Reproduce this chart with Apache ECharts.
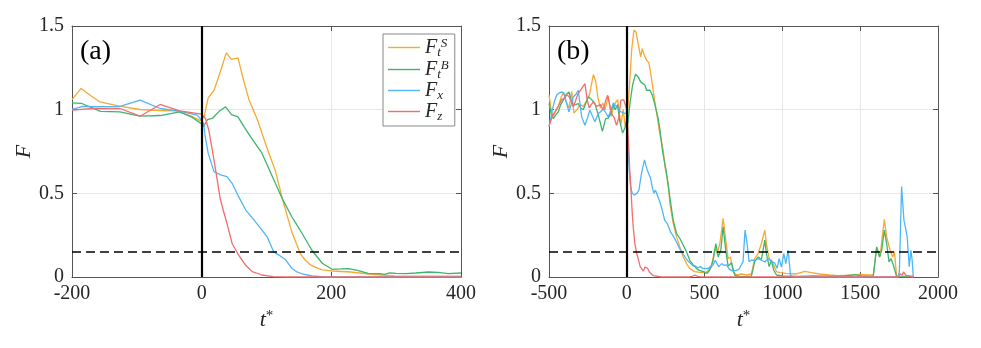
<!DOCTYPE html>
<html>
<head>
<meta charset="utf-8">
<script src="https://cdn.jsdelivr.net/npm/echarts@6/dist/echarts.min.js"></script>
<style>html,body{margin:0;padding:0;background:#fff;}#c{width:981px;height:348px;}</style>
</head>
<body>
<div id="c"></div>
<script>
// ---------- data ----------
const seriesNames = ['FtS', 'FtB', 'Fx', 'Fz'];
const threshold = 0.15;
const eventTime = 0;
const aXRange = [-200, 400, 200];
const bXRange = [-500, 2000, 500];

// panel (a)
const aFtS = [[-200,1.06],[-186,1.127],[-170,1.08],[-157,1.047],[-125,1.02],[-95,1.001],[-64,0.995],[-39,0.993],[-15,0.96],[-2,0.935],[4,0.96],[10,1.07],[19,1.115],[29,1.23],[38,1.34],[46,1.30],[56,1.31],[65,1.17],[73,1.06],[86,0.94],[100,0.78],[114,0.63],[125,0.46],[139,0.27],[152,0.14],[160,0.10],[168,0.072],[176,0.058],[186,0.042],[201,0.036],[230,0.03],[257,0.018],[298,0.006],[350,0.005],[400,0.005]];
const aFtB = [[-200,1.041],[-185,1.037],[-156,0.99],[-126,0.987],[-95,0.962],[-64,0.965],[-34,0.987],[-15,0.955],[0,0.915],[3,0.90],[9,0.94],[17,0.95],[27,0.99],[37,1.017],[46,0.97],[56,0.957],[65,0.90],[75,0.84],[93,0.74],[109,0.60],[124,0.47],[139,0.36],[147,0.31],[155,0.26],[170,0.16],[186,0.082],[201,0.046],[215,0.048],[227,0.05],[240,0.04],[257,0.022],[275,0.02],[282,0.016],[290,0.024],[300,0.022],[315,0.02],[330,0.024],[350,0.03],[365,0.028],[380,0.02],[400,0.024]];
const aFx = [[-200,1.001],[-183,1.02],[-156,1.018],[-126,1.02],[-95,1.057],[-64,1.007],[-32,0.99],[-7,0.967],[0,0.937],[3,0.917],[5,0.85],[10,0.74],[19,0.63],[29,0.61],[39,0.60],[47,0.56],[57,0.48],[68,0.40],[80,0.344],[93,0.28],[101,0.24],[111,0.151],[119,0.131],[129,0.105],[139,0.052],[147,0.03],[155,0.018],[170,0.006],[190,0.0],[400,0.0]];
const aFz = [[-200,0.997],[-167,1.007],[-126,1.007],[-95,0.961],[-64,1.031],[-34,0.993],[0,0.973],[6,0.947],[11,0.878],[19,0.70],[29,0.46],[39,0.32],[47,0.20],[57,0.13],[68,0.07],[78,0.032],[93,0.012],[110,0.002],[130,0],[400,0]];

// panel (b)
const bFtS = [[-500,1.09],[-485,0.99],[-472,0.96],[-455,1.00],[-440,1.02],[-420,1.08],[-405,1.10],[-390,1.05],[-372,1.01],[-354,1.11],[-340,0.98],[-320,1.00],[-300,1.03],[-280,1.02],[-260,1.05],[-240,1.09],[-215,1.21],[-200,1.17],[-185,1.07],[-170,1.01],[-155,1.04],[-140,1.00],[-119,1.08],[-100,0.96],[-80,1.03],[-59,1.06],[-38,0.91],[-23,1.00],[-10,0.90],[0,0.94],
  [10,1.05],[20,1.18],[31,1.355],[46,1.475],[59,1.465],[73,1.395],[89,1.315],[99,1.365],[112,1.325],[127,1.296],[142,1.28],[159,1.186],[174,1.087],[191,0.987],[208,0.878],[220,0.82],[234,0.758],[245,0.66],[266,0.56],[277,0.44],[298,0.32],[320,0.24],[341,0.18],[363,0.12],[384,0.08],[405,0.05],[437,0.032],[480,0.026],[512,0.03],[544,0.06],[566,0.17],[581,0.14],[598,0.2],[619,0.35],[636,0.22],[651,0.11],[666,0.12],[683,0.032],[705,0.012],[737,0.018],[769,0.012],[801,0.018],[822,0.11],[844,0.14],[865,0.2],[887,0.28],[897,0.2],[915,0.11],[929,0.1],[944,0.072],[962,0.032],[983,0.026],[1026,0.022],[1090,0.018],[1144,0.034],[1187,0.026],[1240,0.018],[1304,0.012],[1350,0.008],[1400,0.01],[1450,0.012],[1488,0.016],[1540,0.012],[1584,0.012],[1606,0.177],[1627,0.12],[1655,0.344],[1670,0.24],[1692,0.16],[1709,0.12],[1720,0.15],[1734,0.006],[1790,0.005],[1845,0.005]];
const bFtB = [[-500,1.037],[-485,0.97],[-472,0.947],[-455,0.97],[-440,0.987],[-425,1.03],[-408,1.057],[-390,1.09],[-372,1.106],[-358,1.06],[-344,1.027],[-328,1.03],[-312,1.037],[-296,1.01],[-280,1.0],[-263,1.04],[-247,1.077],[-226,1.06],[-205,1.037],[-183,0.967],[-157,0.87],[-136,0.947],[-120,0.95],[-108,0.967],[-87,1.03],[-75,1.0],[-59,1.03],[-45,0.93],[-27,0.86],[-12,0.89],[0,0.94],
  [7,0.918],[20,1.036],[37,1.146],[56,1.212],[73,1.196],[89,1.166],[99,1.176],[117,1.146],[127,1.116],[149,1.116],[164,1.087],[181,1.027],[202,0.947],[213,0.88],[230,0.75],[252,0.64],[273,0.5],[298,0.34],[320,0.26],[341,0.23],[363,0.19],[384,0.15],[405,0.10],[427,0.072],[459,0.042],[491,0.032],[516,0.022],[533,0.042],[555,0.10],[572,0.2],[587,0.12],[604,0.16],[619,0.30],[636,0.16],[651,0.065],[673,0.085],[694,0.01],[726,0.003],[770,0.002],[801,0.005],[822,0.092],[844,0.12],[865,0.105],[887,0.22],[897,0.14],[915,0.062],[929,0.10],[944,0.042],[962,0.012],[1000,0.006],[1100,0.004],[1200,0.006],[1300,0.005],[1400,0.006],[1470,0.014],[1500,0.006],[1584,0.004],[1606,0.18],[1623,0.12],[1638,0.16],[1655,0.28],[1670,0.2],[1685,0.09],[1698,0.11],[1713,0.072],[1734,0.002],[1845,0.0]];
const bFx = [[-500,0.898],[-479,0.997],[-465,1.05],[-451,1.087],[-435,1.10],[-419,1.106],[-405,1.10],[-393,1.097],[-372,0.987],[-358,1.03],[-344,1.077],[-328,1.09],[-312,1.116],[-290,0.957],[-269,0.907],[-253,0.95],[-237,0.997],[-220,0.96],[-205,0.928],[-183,0.977],[-165,0.99],[-151,1.007],[-135,0.98],[-119,0.957],[-100,1.0],[-87,1.04],[-65,1.017],[-45,0.99],[-33,0.987],[-15,0.98],[0,0.977],
  [8,0.80],[16,0.64],[24,0.54],[35,0.50],[50,0.49],[65,0.50],[78,0.52],[93,0.61],[104,0.66],[114,0.70],[122,0.67],[131,0.64],[140,0.62],[153,0.59],[165,0.53],[174,0.50],[184,0.52],[195,0.51],[212,0.45],[228,0.40],[243,0.34],[260,0.32],[281,0.27],[302,0.24],[324,0.20],[345,0.16],[367,0.13],[388,0.10],[409,0.082],[427,0.065],[441,0.066],[456,0.055],[473,0.062],[490,0.05],[505,0.052],[520,0.05],[537,0.062],[553,0.07],[569,0.10],[580,0.08],[591,0.062],[610,0.08],[623,0.07],[641,0.072],[656,0.05],[673,0.038],[700,0.038],[720,0.045],[747,0.092],[760,0.28],[773,0.2],[786,0.092],[801,0.1],[822,0.1],[844,0.11],[865,0.1],[887,0.09],[908,0.11],[929,0.092],[950,0.085],[966,0.052],[979,0.11],[994,0.06],[1009,0.14],[1022,0.08],[1037,0.16],[1052,0.012],[1069,0],[1745,0],[1752,0.04],[1766,0.54],[1781,0.34],[1794,0.28],[1802,0.24],[1815,0.062],[1826,0.16],[1834,0.10],[1841,0.002]];
const bFz = [[-500,0.9],[-475,0.97],[-451,1.0],[-435,1.03],[-419,1.06],[-400,1.07],[-385,1.09],[-369,1.076],[-344,1.017],[-330,1.05],[-316,1.09],[-295,1.12],[-280,1.14],[-269,1.156],[-255,1.06],[-241,1.01],[-228,1.03],[-215,1.046],[-195,1.02],[-170,1.03],[-151,0.997],[-137,1.05],[-123,1.086],[-110,1.03],[-98,0.977],[-80,0.95],[-66,0.907],[-52,0.95],[-38,1.056],[-20,1.06],[-8,1.06],[0,1.0],
  [5,0.92],[11,0.80],[20,0.62],[26,0.54],[35,0.38],[43,0.28],[52,0.20],[64,0.14],[73,0.11],[86,0.062],[95,0.052],[107,0.035],[116,0.06],[125,0.065],[133,0.052],[145,0.03],[154,0.022],[170,0.008],[181,0.004],[220,0.0],[400,0.0],[420,0.004],[438,0.012],[455,0.004],[480,0],[1000,0],[1500,0],[1745,0],[1755,0.02],[1760,0.026],[1770,0.012],[1778,0.03],[1788,0.032],[1795,0.01],[1800,0],[1845,0]];

// ---------- chart ----------
const colors = ['#F6A935', '#3DB56E', '#4DB6F9', '#F26D6D'];
const serif = "'Liberation Serif', 'DejaVu Serif', serif";
const txt = '#262626';
const frame = '#555555';

function xAxes(gridIndex, r) {
  return [
    { type: 'value', gridIndex, min: r[0], max: r[1], interval: r[2], position: 'bottom',
      name: '{i|t}{s|*}', nameLocation: 'middle', nameGap: 30,
      nameTextStyle: { rich: { i: { fontFamily: serif, fontStyle: 'italic', fontSize: 22, color: txt }, s: { fontFamily: serif, fontSize: 15, color: txt, verticalAlign: 'top', padding: [0,0,8,0] } } },
      axisLine: { show: true, onZero: false, lineStyle: { color: frame, width: 1 } },
      axisTick: { show: true, inside: true, length: 5, lineStyle: { color: frame } },
      axisLabel: { fontFamily: serif, fontSize: 20, color: txt, margin: 7, formatter: v => String(v) },
      splitLine: { show: true, lineStyle: { color: '#e6e6e6', width: 1 } } },
    { type: 'value', gridIndex, min: r[0], max: r[1], interval: r[2], position: 'top',
      axisLine: { show: true, onZero: false, lineStyle: { color: frame, width: 1 } },
      axisTick: { show: true, inside: true, length: 5, lineStyle: { color: frame } },
      axisLabel: { show: false }, splitLine: { show: false } }
  ];
}
function yAxes(gridIndex, gap) {
  return [
    { type: 'value', gridIndex, min: 0, max: 1.5, interval: 0.5, position: 'left',
      name: 'F', nameLocation: 'middle', nameGap: gap, nameRotate: 90,
      nameTextStyle: { fontFamily: serif, fontStyle: 'italic', fontSize: 22, color: txt },
      axisLine: { show: true, onZero: false, lineStyle: { color: frame, width: 1 } },
      axisTick: { show: true, inside: true, length: 5, lineStyle: { color: frame } },
      axisLabel: { fontFamily: serif, fontSize: 20, color: txt, margin: 8, formatter: v => String(v) },
      splitLine: { show: true, lineStyle: { color: '#e6e6e6', width: 1 } } },
    { type: 'value', gridIndex, min: 0, max: 1.5, interval: 0.5, position: 'right',
      axisLine: { show: true, onZero: false, lineStyle: { color: frame, width: 1 } },
      axisTick: { show: true, inside: true, length: 5, lineStyle: { color: frame } },
      axisLabel: { show: false }, splitLine: { show: false } }
  ];
}

function panelSeries(datas, xi, yi) {
  const out = datas.map((d, k) => ({
    name: seriesNames[k], type: 'line', xAxisIndex: xi, yAxisIndex: yi, data: d,
    symbol: 'none', showSymbol: false, color: colors[k],
    lineStyle: { width: 1.3, color: colors[k] }, animation: false, z: 2 + k * 0.01
  }));
  out.push({
    name: 'ref', type: 'line', xAxisIndex: xi, yAxisIndex: yi, data: [], symbol: 'none', z: 5, animation: false,
    markLine: { silent: true, symbol: 'none', label: { show: false }, animation: false,
      data: [
        { yAxis: threshold, lineStyle: { color: '#000', width: 1.5, type: [9, 5] } },
        { xAxis: eventTime, lineStyle: { color: '#000', width: 2.2, type: 'solid' } }
      ] }
  });
  return out;
}

const legendRich = {
  f: { fontFamily: serif, fontStyle: 'italic', fontSize: 20, color: txt, lineHeight: 22 },
  sb: { fontFamily: serif, fontStyle: 'italic', fontSize: 13, color: txt, verticalAlign: 'bottom', padding: [6, 0, 0, 0] },
  sp: { fontFamily: serif, fontStyle: 'italic', fontSize: 13, color: txt, verticalAlign: 'top', padding: [0, 0, 8, 0] }
};
const legendText = { FtS: '{f|F}{sb|t}{sp|S}', FtB: '{f|F}{sb|t}{sp|B}', Fx: '{f|F}{sb|x}', Fz: '{f|F}{sb|z}' };

const chart = echarts.init(document.getElementById('c'), null, { renderer: 'canvas' });
chart.setOption({
  animation: false,
  backgroundColor: '#fff',
  title: [
    { text: '(a)', left: 75, top: 33, textStyle: { fontFamily: serif, fontWeight: 'normal', fontSize: 28, color: '#000' } },
    { text: '(b)', left: 552, top: 33, textStyle: { fontFamily: serif, fontWeight: 'normal', fontSize: 28, color: '#000' } }
  ],
  legend: {
    data: seriesNames, orient: 'vertical', left: 383, top: 34,
    backgroundColor: '#fff', borderColor: '#888', borderWidth: 1, padding: [3, 6, 3, 5],
    icon: 'rect', itemWidth: 32, itemHeight: 1.4, itemGap: 0,
    formatter: n => legendText[n],
    textStyle: { rich: legendRich, height: 21 }
  },
  grid: [
    { left: 72, top: 26, width: 389, height: 251 },
    { left: 549, top: 26, width: 389, height: 251 }
  ],
  xAxis: [...xAxes(0, aXRange), ...xAxes(1, bXRange)],
  yAxis: [...yAxes(0, 36), ...yAxes(1, 27)],
  series: [
    ...panelSeries([aFtS, aFtB, aFx, aFz], 0, 0),
    ...panelSeries([bFtS, bFtB, bFx, bFz], 2, 2)
  ]
});
</script>
</body>
</html>
